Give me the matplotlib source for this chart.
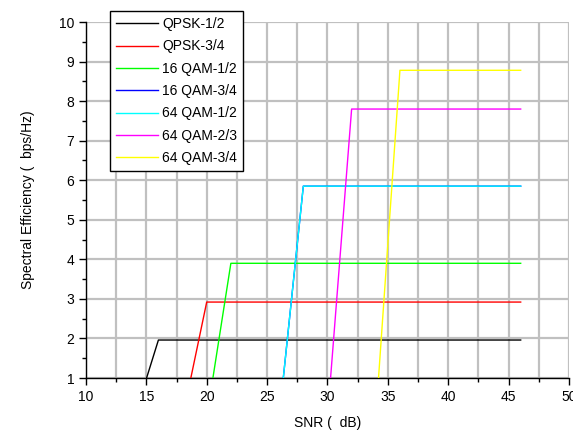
import numpy as np
import matplotlib
matplotlib.use("Agg")
import matplotlib.pyplot as plt
from matplotlib.ticker import MultipleLocator

plt.rcParams['font.family'] = ['Liberation Sans', 'DejaVu Sans']

# modulation schemes: SNR ramp (start at 0, top of ramp) and flat level
labels = ['QPSK-1/2', 'QPSK-3/4', '16 QAM-1/2', '16 QAM-3/4',
          '64 QAM-1/2', '64 QAM-2/3', '64 QAM-3/4']
colors = ['#000000', '#ff0000', '#00ff00', '#0000ff',
          '#00ffff', '#ff00ff', '#ffff00']
snr_start = [14, 18, 20, 26, 26, 30, 34]
snr_top = [16, 20, 22, 28, 28, 32, 36]
snr_end = [46, 46, 46, 46, 46, 46, 46]
efficiency = [1.96, 2.92, 3.90, 5.85, 5.85, 7.80, 8.78]

fig = plt.figure(figsize=(5.73, 4.32), dpi=100)
ax = fig.add_axes([0.150, 0.125, 0.843, 0.824])

for i in range(len(labels)):
    xs = [snr_start[i], snr_top[i], snr_end[i]]
    ys = [0, efficiency[i], efficiency[i]]
    ax.plot(xs, ys, color=colors[i], lw=1.0, label=labels[i], zorder=3)

ax.set_xlim(10, 50)
ax.set_ylim(1, 10)
ax.xaxis.set_major_locator(MultipleLocator(5))
ax.xaxis.set_minor_locator(MultipleLocator(2.5))
ax.yaxis.set_major_locator(MultipleLocator(1))
ax.yaxis.set_minor_locator(MultipleLocator(0.5))

ax.grid(True, which='both', axis='x', color='#c0c0c0', lw=1.6, zorder=0)
ax.grid(True, which='major', axis='y', color='#c0c0c0', lw=1.6, zorder=0)
ax.set_axisbelow(True)

for s in ['top', 'right']:
    ax.spines[s].set_visible(False)
for s in ['left', 'bottom']:
    ax.spines[s].set_linewidth(1.0)

ax.tick_params(which='major', direction='out', length=5, width=1, labelsize=10)
ax.tick_params(which='minor', direction='out', length=3, width=1)

ax.set_xlabel('SNR (  dB)', fontsize=10, labelpad=9)
ax.set_ylabel('Spectral Efficiency (  bps/Hz)', fontsize=10, labelpad=17)

leg = ax.legend(loc='upper left', bbox_to_anchor=(0.192, 0.975),
                bbox_transform=fig.transFigure, borderaxespad=0,
                fontsize=10, handlelength=3.0, handletextpad=0.3,
                labelspacing=0.6, fancybox=False, framealpha=1,
                edgecolor='#000000', borderpad=0.45)
leg.get_frame().set_linewidth(1.0)

fig.savefig('out.png', dpi=100)
